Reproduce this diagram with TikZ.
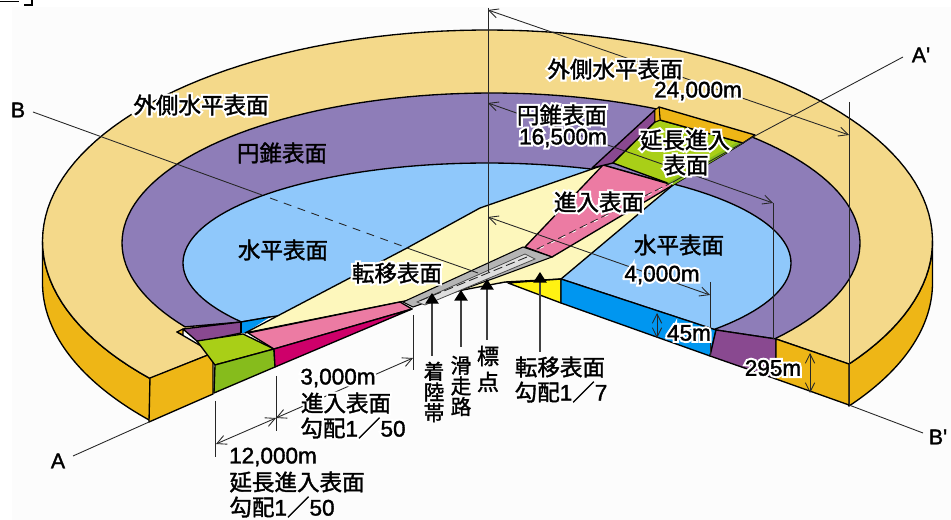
\documentclass[tikz,border=0pt]{standalone}
\usepackage{fontspec}
\usetikzlibrary{arrows.meta}
\setmainfont{Noto Sans CJK JP}
\newfontfamily\jpn[FakeBold=1.5]{Noto Sans CJK JP}
\newfontfamily\jpnw[FakeBold=20]{Noto Sans CJK JP}
\newfontfamily\lat[FakeBold=1.5]{Liberation Sans}
\newfontfamily\latw[FakeBold=20]{Liberation Sans}
\let\latcur\lat
\newcommand\La[1]{{\latcur #1}}
\newcommand\hl[1]{\mbox{\rlap{\let\latcur\latw\color{white}\jpnw #1}\jpn #1}}
\definecolor{band}{HTML}{F4D98A}
\definecolor{cone}{HTML}{8E7DB8}
\definecolor{flat}{HTML}{8FC8FB}
\definecolor{ora}{HTML}{EEB616}
\definecolor{lime}{HTML}{A9CF17}
\definecolor{dgreen}{HTML}{86BC1C}
\definecolor{pinkk}{HTML}{EC7BA3}
\definecolor{mag}{HTML}{CE006A}
\definecolor{pale}{HTML}{FDF7BC}
\definecolor{sblue}{HTML}{0096F0}
\definecolor{yel}{HTML}{FFF212}
\definecolor{dpur}{HTML}{894990}
\definecolor{rgray}{HTML}{B5B5B5}
\definecolor{lgray}{HTML}{DEDEDE}
\tikzset{
  face/.style={draw=black,line width=1pt,line join=round},
  thin line/.style={draw=black!85,line width=0.65pt},
  dimarrow/.style={thin line,{Straight Barb[length=7pt,width=7pt]}-{Straight Barb[length=7pt,width=7pt]}},
  marker/.style={draw=black!75,line width=1.1pt,{Triangle[length=8pt,width=10pt,fill=black,black]}-},
  lbl/.style={inner sep=0pt,font=\fontsize{16.9}{20}\selectfont\jpn,anchor=center},
  vlbl/.style={inner sep=0pt,font=\fontsize{15.5}{15.5}\selectfont\jpn,anchor=center,align=center},
  vlblb/.style={inner sep=0pt,font=\fontsize{16.5}{19.5}\selectfont\jpn,anchor=center,align=center},
  captxt/.style={inner sep=0pt,font=\fontsize{16}{18}\selectfont\lat,anchor=center}
}
\begin{document}
\begin{tikzpicture}[x=0.75pt,y=-0.75pt]
\useasboundingbox (0,0) rectangle (951,520);
\fill[white] (0,0) rectangle (951,520);
\fill[black!1] (12,7) rectangle (951,520);
\draw[line width=1pt] (0,1.5) -- (19,1.5);
\draw[line width=1pt] (24,5) -- (32,5) -- (32,0);
% side faces of the ring
\path[face,fill=ora] plot[domain=139.3:180,samples=40] ({487.5+445*cos(\x)},{241+211*sin(\x)}) -- plot[domain=180:139.3,samples=40] ({487.5+445*cos(\x)},{283+211*sin(\x)}) -- cycle;
\path[face,fill=ora] plot[domain=395.7:360,samples=40] ({487.5+445*cos(\x)},{241+211*sin(\x)}) -- plot[domain=360:395.7,samples=40] ({487.5+445*cos(\x)},{283+211*sin(\x)}) -- cycle;
% outer horizontal surface
\path[face,fill=band] plot[domain=139.3:395.7,samples=120] ({487.5+445*cos(\x)},{241+211*sin(\x)}) -- (776,339) -- (480,265) -- (177,332) -- (213,353) -- cycle;
% conical surface
\path[face,fill=cone] plot[domain=146:399.7,samples=120] ({491+369*cos(\x)},{243+150*sin(\x)}) -- (716,330) -- (480,265) -- (241,322) -- cycle;
% horizontal surface
\path[face,fill=flat] plot[domain=143.9:401.7,samples=120] ({487+304*cos(\x)},{263+100*sin(\x)}) -- (561,279) -- (505,282) -- (270,317) -- (241,322) -- cycle;
% left front
\path[face,fill=ora] (150,378) -- (213,353) -- (213,394) -- (149,422) -- cycle;
\path[face,fill=ora] (177,332) -- (183,329) -- (183,335) -- cycle;
\path[face,fill=dpur] (183,329) -- (241,322) -- (241,333) -- (198,342) -- cycle;
\path[fill=sblue] (241,322) -- (270,317) -- (245,333) -- (241,333) -- cycle;
\draw[line width=1pt] (241,322) -- (270,317);
\draw[line width=1pt] (241,322) -- (241,333);
% transitional surface
\path[face,fill=pale] (245,333) -- (407,248) -- (480,208) -- (598,167) -- (603,165) -- (673,185) -- (561,279) -- (505,282) -- (400,302) -- cycle;
% green extended approach, left
\path[face,fill=lime] (197,341) -- (243,334) -- (274,349) -- (215,365) -- cycle;
\path[face,fill=dgreen] (215,365) -- (274,349) -- (275,367) -- (214,393) -- cycle;
% approach surface left
\path[face,fill=pinkk] (248,333) -- (400,302) -- (412,309) -- (274,349) -- cycle;
\path[face,fill=mag] (274,349) -- (412,309) -- (275,367) -- cycle;
% approach surface right
\path[face,fill=pinkk] (603,165) -- (673,185) -- (552,257) -- (525,247) -- cycle;
% far side
\path[face,fill=dpur] (655,110) -- (655,122) -- (613,163) -- (592,168) -- cycle;
\path[face,fill=lime] (660,120) -- (743,143) -- (673,185) -- (613,163) -- (655,122) -- cycle;
\path[fill=dgreen] (743,143) -- (673,185) -- (667,183) -- (736,143) -- cycle;
\path[face,fill=ora] (659,107) -- (755,135) -- (743,143) -- (660,120) -- cycle;
\path[face,fill=ora,line width=0.6pt] (655,110) -- (659,107) -- (660,120) -- (655,122) -- cycle;
% right front
\path[face,fill=yel] (508,283) -- (561,279) -- (561,303) -- cycle;
\path[face,fill=sblue] (561,279) -- (716,330) -- (710,356) -- (561,303) -- cycle;
\path[face,fill=dpur] (716,330) -- (776,339) -- (776,379) -- (710,356) -- cycle;
\path[face,fill=ora] (776,339) -- (849,364) -- (849,405) -- (776,379) -- cycle;
% runway
\path[draw=black,line width=0.8pt,fill=rgray] (403,302) -- (523,247) -- (552,257) -- (495,278) -- (413,307) -- cycle;
\path[draw=black!70,line width=0.6pt,fill=lgray] (417,302) -- (525,254) -- (535,259) -- (425,305) -- cycle;
% center line AA'
\draw[thin line] (903,57) -- (753,137) -- (673,182);
\draw[thin line,dash pattern=on 6pt off 3pt] (673,182) -- (535,250);
\draw[white,line width=0.6pt,dash pattern=on 3pt off 6pt] (673,183) -- (535,251);
\draw[thin line,dash pattern=on 7pt off 3pt] (527,257) -- (417,302);
\draw[thin line] (73,456) -- (149,422);
% line BB'
\draw[thin line] (33,112) -- (262,195);
\draw[thin line,dash pattern=on 6pt off 5pt] (270,198) -- (405,247);
\draw[thin line] (407,248) -- (478,273);
\draw[thin line] (849,405) -- (923,433);
% vertical reference lines
\draw[thin line] (488,8) -- (488,272);
\draw[thin line] (773,203) -- (773,339);
\draw[thin line] (849,102) -- (849,405);
\draw[thin line] (710,282) -- (710,356);
\draw[thin line] (215,401) -- (215,457);
\draw[thin line] (276,376) -- (276,431);
\draw[thin line] (413,315) -- (413,370);
% dimension arrows
\draw[dimarrow] (488,10) -- (849,135);
\draw[dimarrow] (488,103) -- (773,203);
\draw[dimarrow] (488,217) -- (710,295);
\draw[dimarrow] (216,444) -- (276,418);
\draw[dimarrow] (276,418) -- (413,358);
\draw[dimarrow] (657,313) -- (657,338);
\draw[dimarrow] (810,353) -- (810,393);
% marker arrows
\draw[marker] (432,293) -- (432,356);
\draw[marker] (461,290) -- (461,347);
\draw[marker] (487,279) -- (487,340);
\draw[marker] (540,272) -- (540,352);
% labels
\node[lbl] (t1) at (201,105) {\hl{外側水平表面}};
\node[lbl] (t2) at (282,153) {円錐表面};
\node[lbl] (t3) at (283,250) {水平表面};
\node[lbl] (t4) at (397,273) {\hl{転移表面}};
\node[lbl] (t5) at (599,202) {\hl{進入表面}};
\node[lbl] (t6) at (679,245) {水平表面};
\node[lbl] (t7) at (615,69) {\hl{外側水平表面}};
\node[lbl] (t8) at (698,91) {\hl{\La{24,000m}}};
\node[lbl] (t9) at (562,115) {\hl{円錐表面}};
\node[lbl] (t10) at (563,138) {\hl{\La{16,500m}}};
\node[lbl] (t11) at (685,140) {\hl{延長進入}};
\node[lbl] (t12) at (686,165) {\hl{表面}};
\node[lbl] (t13) at (662,275) {\hl{\La{4,000m}}};
\node[lbl] (t14) at (689,333) {\hl{\La{45m}}};
\node[lbl] (t15) at (773,368) {\hl{\La{295m}}};
\node[lbl] (t16) at (560,367) {転移表面};
\node[lbl] (t17) at (561,392) {勾配\La{1}／\La{7}};
\node[lbl] (t18) at (338,378) {\hl{\La{3,000m}}};
\node[lbl] (t19) at (346,403) {\hl{進入表面}};
\node[lbl] (t20) at (353,428) {\hl{勾配\La{1}／\La{50}}};
\node[lbl] (t21) at (273,457) {\La{12,000m}};
\node[lbl] (t22) at (297,482) {延長進入表面};
\node[lbl] (t23) at (282,507) {勾配\La{1}／\La{50}};
\node[vlbl] (v1) at (434,392) {着\\陸\\帯};
\node[vlbl] (v2) at (461,386) {滑\\走\\路};
\node[vlblb] (v3) at (488,369) {標\\点};
\node[captxt] (A) at (58,461) {A};
\node[captxt] (Ap) at (921,55) {A'};
\node[captxt] (B) at (18,110) {B};
\node[captxt] (Bp) at (938,437) {B'};
\end{tikzpicture}
\end{document}
